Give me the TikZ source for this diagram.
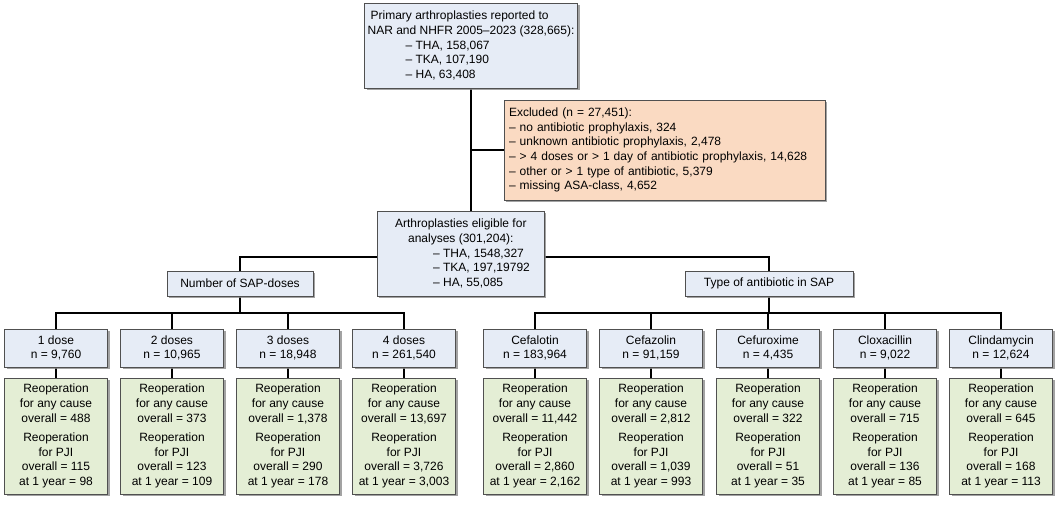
\documentclass[tikz,border=0pt]{standalone}
\usepackage{fontspec}
\setmainfont{Liberation Sans}
\usetikzlibrary{shadows,backgrounds}
\definecolor{bluef}{HTML}{E6ECF6}
\definecolor{orangef}{HTML}{FADAC2}
\definecolor{greenf}{HTML}{E4EED5}
\definecolor{edge}{HTML}{505050}
\tikzset{
  base/.style={draw=edge, line width=0.8pt, inner sep=2pt, font=\fontsize{12}{14.6}\selectfont,
    drop shadow={shadow xshift=2pt, shadow yshift=-2pt, fill=black!45, opacity=0.8}},
  bluebox/.style={base, fill=bluef, align=center},
  redbox/.style={base, fill=orangef, align=left},
  greenbox/.style={base, fill=greenf, align=center, minimum width=103pt, minimum height=116pt},
  smallbox/.style={bluebox, minimum width=103pt, minimum height=38pt},
  conn/.style={line width=2pt, black}
}
\begin{document}
\begin{tikzpicture}[x=1pt,y=-1pt]
\useasboundingbox (0,0) rectangle (1062,505);
\node[bluebox, align=left, minimum width=213pt, minimum height=85pt] (top) at (471,45.5)
 {\hspace*{3pt}Primary arthroplasties reported to\\NAR and NHFR 2005–2023 (328,665):\\
 \hspace*{38pt}– THA, 158,067\\\hspace*{38pt}– TKA, 107,190\\\hspace*{38pt}– HA, 63,408};
\node[redbox, minimum width=321pt, minimum height=100pt, text width=311pt] (exc) at (664.5,150)
 {Excluded (n = 27,451):\\– no antibiotic prophylaxis, 324\\– unknown antibiotic prophylaxis, 2,478\\
 – > 4 doses or > 1 day of antibiotic prophylaxis, 14,628\\– other or > 1 type of antibiotic, 5,379\\– missing ASA-class, 4,652};
\node[bluebox, align=left, minimum width=167pt, minimum height=85pt] (mid) at (460.5,253.5)
 {\hspace*{4pt}Arthroplasties eligible for\\\hspace*{17pt}analyses (301,204):\\
 \hspace*{42pt}– THA, 1548,327\\\hspace*{42pt}– TKA, 197,19792\\\hspace*{42pt}– HA, 55,085};
\node[bluebox, minimum width=146pt, minimum height=25pt] (num) at (240,283.5) {Number of SAP-doses};
\node[bluebox, minimum width=168pt, minimum height=25pt] (typ) at (769,283.5) {Type of antibiotic in SAP};
\coordinate (exj) at (471,150);
\coordinate (j1) at (471,257);
\foreach \n/\x/\a/\b/\c/\d [count=\i] in {
 {1 dose}/56/{9,760}/{488}/{115}/{98},
 {2 doses}/172/{10,965}/{373}/{123}/{109},
 {3 doses}/288/{18,948}/{1,378}/{290}/{178},
 {4 doses}/404/{261,540}/{13,697}/{3,726}/{3,003},
 {Cefalotin}/535/{183,964}/{11,442}/{2,860}/{2,162},
 {Cefazolin}/651/{91,159}/{2,812}/{1,039}/{993},
 {Cefuroxime}/768/{4,435}/{322}/{51}/{35},
 {Cloxacillin}/885/{9,022}/{715}/{136}/{85},
 {Clindamycin}/1001/{12,624}/{645}/{168}/{113}}{
 \node[smallbox] (s\i) at (\x,348) {\n\\n = \a};
 \node[greenbox] (g\i) at (\x,436) {Reoperation\\for any cause\\overall = \b\\[5pt]Reoperation\\for PJI\\overall = \c\\at 1 year = \d};
}
\begin{scope}[on background layer]
\draw[conn] (top.south) -- (top.south |- mid.north);
\draw[conn] (exj) -- (exc.west |- exj);
\draw[conn] (num.north) |- (j1) -| (typ.north);
\draw[conn] (num.south) -- ++(0,17) coordinate (l1);
\draw[conn] (s1.north) |- (l1) -| (s4.north);
\draw[conn] (s2.north) -- (s2.north |- l1);
\draw[conn] (s3.north) -- (s3.north |- l1);
\draw[conn] (typ.south) -- ++(0,17) coordinate (l2);
\draw[conn] (s5.north) |- (l2) -| (s9.north);
\draw[conn] (s6.north) -- (s6.north |- l2);
\draw[conn] (s7.north) -- (s7.north |- l2);
\draw[conn] (s8.north) -- (s8.north |- l2);
\foreach \i in {1,...,9}{\draw[conn] (s\i.south) -- (g\i.north);}
\end{scope}
\end{tikzpicture}
\end{document}
